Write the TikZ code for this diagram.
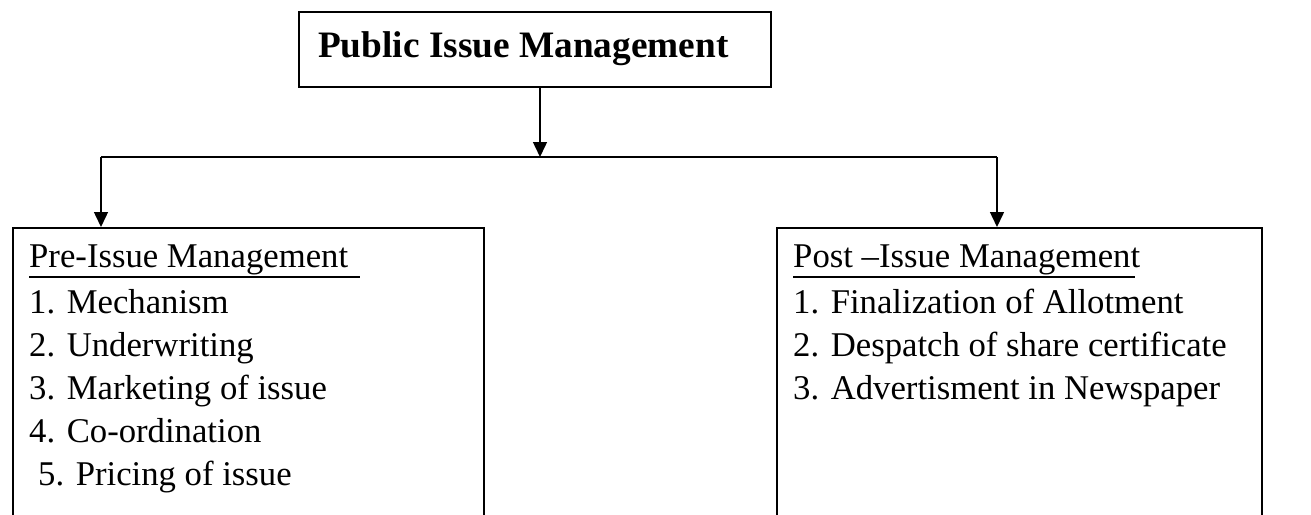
\documentclass[tikz,border=0pt]{standalone}
\usepackage{fontspec}
\setmainfont{Liberation Serif}
\usetikzlibrary{arrows.meta}
\begin{document}
\begin{tikzpicture}[x=1pt,y=-1pt,
  frame/.style={draw, line width=1.5pt, rectangle, inner sep=0pt, anchor=north west},
  label/.style={inner sep=0pt, anchor=base west,
    font=\fontsize{34.7}{43}\selectfont},
  title/.style={inner sep=0pt, anchor=base west,
    font=\fontsize{37.3}{44}\selectfont\bfseries},
  link/.style={line width=1.5pt},
  arrow/.style={link, -{Triangle[length=15pt,width=14pt]}},
  rule/.style={line width=2pt}]
\clip (0,0) rectangle (1311,514);
\fill[white] (0,0) rectangle (1311,514);

% top box
\node[frame, minimum width=472pt, minimum height=75pt] (top) at (298,11) {};
\node[title] (toptext) at (318,57) {Public Issue Management};

% lower boxes (run past the bottom edge)
\node[frame, minimum width=471pt, minimum height=320pt] (pre) at (12,227) {};
\node[frame, minimum width=485pt, minimum height=320pt] (post) at (776,227) {};

% headings with underline
\node[label] (prehead) at (29,267) {Pre-Issue Management};
\node[label] (posthead) at (793,267) {Post –Issue Management};
\draw[rule] (29,277) -- (360,277);
\draw[rule] (793,277) -- (1135,277);

% pre-issue items
\node[label] (pre1) at (29,313) {1. Mechanism};
\node[label] (pre2) at (29,356) {2. Underwriting};
\node[label] (pre3) at (29,399) {3. Marketing of issue};
\node[label] (pre4) at (29,442) {4. Co-ordination};
\node[label] (pre5) at (38,485) {5. Pricing of issue};

% post-issue items
\node[label] (post1) at (793,313) {1. Finalization of Allotment};
\node[label] (post2) at (793,356) {2. Despatch of share certificate};
\node[label] (post3) at (793,399) {3. Advertisment in Newspaper};

% connectors
\coordinate (j) at (540,157);
\coordinate (jl) at (101,157);
\coordinate (jr) at (997,157);
\draw[arrow] (top.south -| j) -- (j);
\draw[link] (jl) -- (jr);
\draw[arrow] (jl) -- (jl |- pre.north);
\draw[arrow] (jr) -- (jr |- post.north);
\end{tikzpicture}
\end{document}
